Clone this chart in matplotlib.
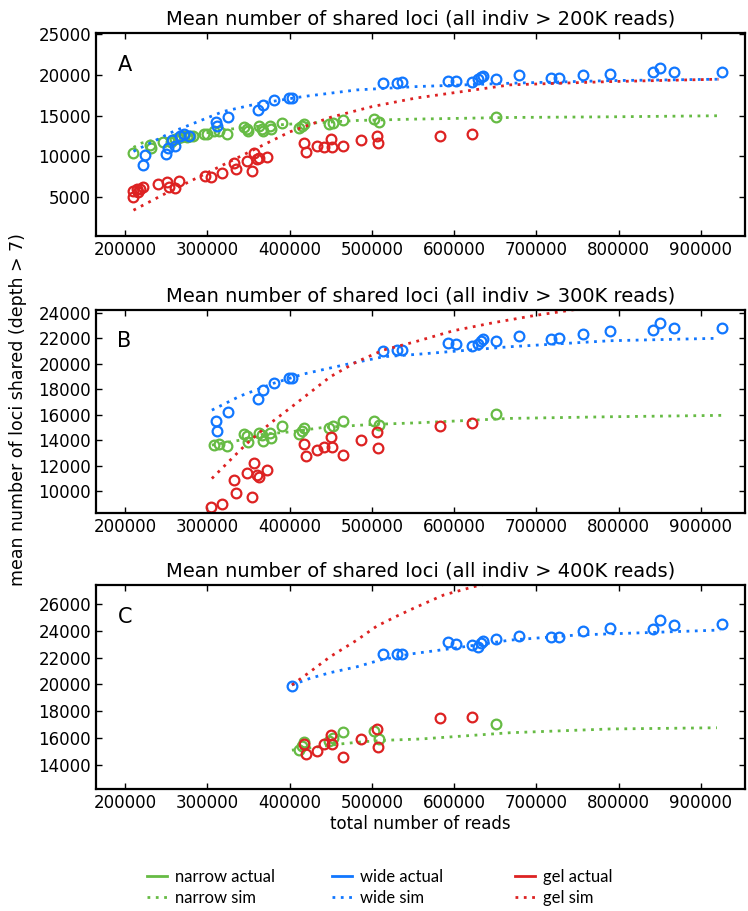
import matplotlib
matplotlib.use('Agg')
import matplotlib.pyplot as plt
from matplotlib.lines import Line2D
import numpy as np

# total reads per individual, by library type
narrow_x = [210100, 230400, 231200, 245800, 255900, 260800, 264400, 268100, 271700, 275400,
            279000, 283000, 296400, 299300, 308200, 314300, 323600, 345000, 347900, 349900,
            362100, 366200, 368100, 376300, 377500, 390500, 411900, 414800, 417600, 447200,
            452500, 465400, 501900, 508800, 651100]
wide_x = [222200, 224300, 249800, 252600, 256800, 260800, 266900, 271700, 277800, 310800,
          312000, 324900, 361700, 367400, 381200, 399400, 403000, 514000, 530300, 537100,
          592300, 602100, 621500, 629500, 632500, 634900, 650700, 678200, 717600, 727700,
          756500, 788800, 841600, 849600, 867500, 925500]
gel_x = [209400, 210100, 214200, 216200, 218200, 221500, 240500, 250700, 253500, 260800,
         266000, 297300, 304200, 317600, 332500, 335000, 348000, 353600, 356800, 360100,
         362900, 372300, 416800, 420100, 433100, 441100, 450100, 451300, 464700, 486900,
         505900, 507500, 583000, 621500]

# mean shared loci, panel A (> 200K)
narrow_A = [10420, 11430, 11030, 11760, 11760, 12160, 12290, 12410, 12470, 12350,
            12530, 12530, 12780, 12780, 13060, 13060, 12780, 13590, 13390, 13140,
            13670, 13390, 13060, 13670, 13350, 14080, 13470, 13750, 14000, 14000,
            14080, 14400, 14570, 14210, 14770]
wide_A = [8990, 10210, 10330, 11060, 12040, 11310, 12450, 12780, 12450, 14160,
          13670, 14850, 15710, 16320, 16930, 17210, 17210, 19050, 19050, 19100,
          19290, 19250, 19170, 19500, 19740, 19870, 19500, 20020, 19660, 19660,
          19990, 20150, 20390, 20880, 20360, 20320]
gel_A = [5720, 4990, 6010, 5650, 6010, 6260, 6660, 6820, 6210, 6140,
         6940, 7560, 7480, 7970, 9190, 8460, 9470, 8250, 10420, 9680,
         9800, 9880, 11640, 10540, 11310, 11100, 12130, 11100, 11220, 11960,
         12450, 11640, 12450, 12740]

# panel B (> 300K)
narrow_B = [13610, 13660, 13550, 14470, 14340, 13820, 14580, 14390, 13920, 14580,
            14180, 15100, 14450, 14710, 14920, 14920, 15100, 15500, 15520, 15180, 16020]
wide_B = [15500, 14730, 16230, 17210, 17940, 18510, 18880, 18880, 21030, 21060,
          21060, 21610, 21540, 21430, 21560, 21800, 21950, 21820, 22190, 21950,
          22030, 22370, 22610, 22640, 23240, 22820, 22820]
gel_B = [8750, 8960, 10850, 9850, 11430, 9540, 12210, 11240, 11110, 11690,
         13660, 12740, 13190, 13430, 14260, 13430, 12840, 14020, 14610, 13370, 15100, 15320]

# panel C (> 400K)
narrow_C = [15100, 15400, 15730, 15780, 15980, 16430, 16550, 15930, 17030]
wide_C = [19880, 22270, 22270, 22290, 23140, 22990, 22920, 22770, 23070, 23260,
          23370, 23590, 23520, 23560, 23990, 24230, 24160, 24810, 24460, 24530]
gel_C = [15560, 14800, 15000, 15530, 16230, 15530, 14600, 15930, 16650, 15310, 17470, 17590]

# simulated curves (read off at a few x positions)
narrow_sim_A_x = [210100, 220300, 238500, 279000, 319500, 360100, 400600, 441100, 481700, 552600, 668100, 789700, 919400]
narrow_sim_A = [11100, 11640, 12040, 12530, 13260, 13670, 13960, 14160, 14400, 14570, 14770, 14850, 14980]
wide_sim_A_x = [210100, 258700, 319100, 360100, 416800, 481700, 554600, 668100, 789700, 921300]
wide_sim_A = [10610, 13060, 15500, 16440, 17340, 18150, 18560, 18970, 19290, 19460]
gel_sim_A_x = [210100, 250000, 300000, 350000, 400000, 450000, 500000, 552600, 668100, 789700, 921300]
gel_sim_A = [3400, 5500, 8000, 10500, 13000, 14800, 16100, 17140, 18770, 19170, 19460]

narrow_sim_B_x = [305400, 339800, 368100, 400600, 441100, 501900, 554600, 668100, 789700, 925500]
narrow_sim_B = [13610, 14000, 14470, 14650, 15000, 15240, 15360, 15710, 15840, 15950]
wide_sim_B_x = [305400, 339800, 380300, 416800, 465400, 514000, 554600, 668100, 789700, 919400]
wide_sim_B = [16360, 17470, 18470, 19200, 19910, 20560, 20750, 21350, 21820, 22010]
gel_sim_B_x = [305400, 327700, 348000, 376300, 408800, 449200, 481700, 514000, 552600, 599200, 647800, 696400, 757200]
gel_sim_B = [10980, 12430, 13740, 15320, 16940, 18980, 20170, 21090, 21740, 22610, 23240, 23790, 24370]

narrow_sim_C_x = [402700, 461400, 489700, 522200, 558700, 668100, 789700, 919400]
narrow_sim_C = [15100, 15560, 15730, 15850, 15930, 16400, 16680, 16770]
wide_sim_C_x = [402700, 424900, 449200, 481700, 510000, 546500, 599200, 668100, 749200, 830200, 923400]
wide_sim_C = [19960, 20460, 20880, 21320, 21820, 22270, 22700, 23310, 23690, 23860, 24060]
gel_sim_C_x = [402700, 424900, 449200, 481700, 506000, 530300, 550500, 587000, 623500, 660000]
gel_sim_C = [19960, 20950, 22070, 23310, 24360, 25100, 25680, 26670, 27290, 27800]

thresholds = [200000, 300000, 400000]
panel_letters = ['A', 'B', 'C']
titles = ['Mean number of shared loci (all indiv > 200K reads)',
          'Mean number of shared loci (all indiv > 300K reads)',
          'Mean number of shared loci (all indiv > 400K reads)']

green = '#66bb44'
blue = '#1177ff'
red = '#dd2222'

plt.rcParams['font.family'] = 'DejaVu Sans'
plt.rcParams['xtick.direction'] = 'in'
plt.rcParams['ytick.direction'] = 'in'

fig = plt.figure(figsize=(7.48, 9.11), dpi=100)
rects = [[0.1283, 0.7409, 0.8677, 0.2228],
         [0.1283, 0.4369, 0.8677, 0.2228],
         [0.1283, 0.1339, 0.8677, 0.2239]]
ylims = [(230, 25120), (8270, 24236), (12200, 27417)]
yticks = [np.arange(5000, 25001, 5000), np.arange(10000, 24001, 2000), np.arange(14000, 26001, 2000)]

obs = [(narrow_A, wide_A, gel_A), (narrow_B, wide_B, gel_B), (narrow_C, wide_C, gel_C)]
sims = [((narrow_sim_A_x, narrow_sim_A), (wide_sim_A_x, wide_sim_A), (gel_sim_A_x, gel_sim_A)),
        ((narrow_sim_B_x, narrow_sim_B), (wide_sim_B_x, wide_sim_B), (gel_sim_B_x, gel_sim_B)),
        ((narrow_sim_C_x, narrow_sim_C), (wide_sim_C_x, wide_sim_C), (gel_sim_C_x, gel_sim_C))]

dots = (0, (1, 2))
for i in range(3):
    ax = fig.add_axes(rects[i])
    thr = thresholds[i]
    for xs, ys, (sx, sy), c in zip((narrow_x, wide_x, gel_x), obs[i], sims[i], (green, blue, red)):
        xs = np.array(xs)
        xs = xs[xs > thr]
        ax.plot(sx, sy, linestyle=dots, color=c, lw=2)
        ax.plot(xs, ys, 'o', mfc='none', mec=c, ms=7, mew=1.6)
    ax.set_xlim(164500, 953500)
    ax.set_ylim(*ylims[i])
    ax.set_xticks(np.arange(200000, 900001, 100000))
    ax.set_yticks(yticks[i])
    ax.tick_params(top=True, right=True, labelsize=12, length=4, width=1)
    for s in ax.spines.values():
        s.set_linewidth(1.6)
    ax.set_title(titles[i], fontsize=14, pad=6)
    ax.text(0.033, 0.845, panel_letters[i], transform=ax.transAxes, fontsize=15,
            ha='left', va='center')
    if i == 2:
        ax.set_xlabel('total number of reads', fontsize=12, labelpad=2)

fig.text(0.024, 0.55, 'mean number of loci shared (depth > 7)', rotation=90,
         fontsize=12.5, ha='center', va='center')

# legend: three columns of two entries
cols = [('narrow', green, 147), ('wide', blue, 332), ('gel', red, 515)]
for name, c, xpx in cols:
    handles = [Line2D([], [], color=c, lw=2), Line2D([], [], color=c, lw=2, linestyle=dots)]
    fig.legend(handles, [name + ' actual', name + ' sim'], loc='upper left',
               bbox_to_anchor=(xpx / 748, 1 - 869 / 911), frameon=False,
               prop={'family': 'Lato', 'size': 12}, borderpad=0, borderaxespad=0,
               handlelength=1.2, handletextpad=0.5, labelspacing=0.3)

fig.savefig('out.png', dpi=100, facecolor='white')
